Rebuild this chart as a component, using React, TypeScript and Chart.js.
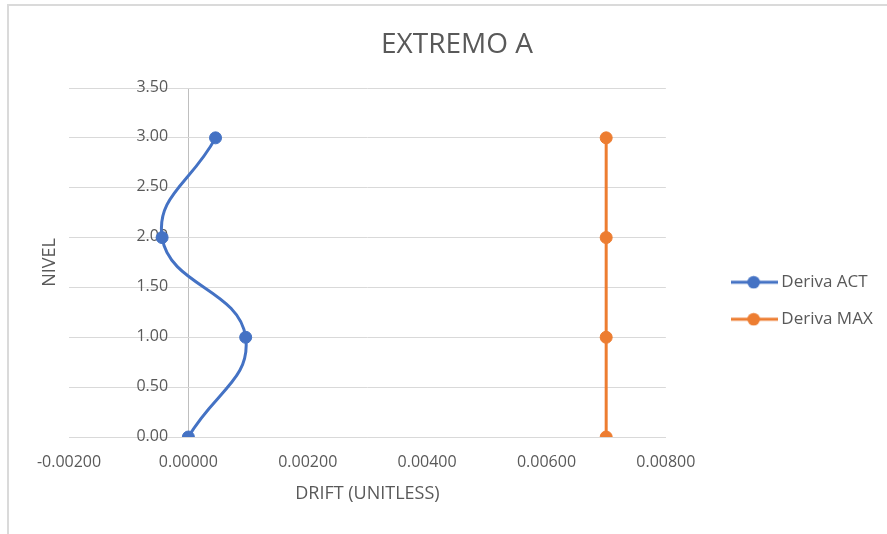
import React, { useEffect, useRef } from 'react';
import { Chart, registerables } from 'chart.js';

Chart.register(...registerables);

// ---- data ----
const levels = [0, 1, 2, 3];
const derivaAct = [0, 0.00096, -0.00044, 0.000455];
const derivaMax = [0.007, 0.007, 0.007, 0.007];
const seriesNames = ['Deriva ACT', 'Deriva MAX'];
const seriesColors = ['#4472C4', '#ED7D31'];
const xTicks = [-0.002, 0, 0.002, 0.004, 0.006, 0.008];
const yTicks = [0, 0.5, 1, 1.5, 2, 2.5, 3, 3.5];
const chartTitle = 'EXTREMO A';
const xTitle = 'DRIFT (UNITLESS)';
const yTitle = 'NIVEL';

const FONT = "'Open Sans', 'Noto Sans', sans-serif";
const TEXT = '#595959';

function makeIcon(color: string): HTMLCanvasElement {
  const c = document.createElement('canvas');
  c.width = 47;
  c.height = 14;
  const g = c.getContext('2d')!;
  g.strokeStyle = color;
  g.lineWidth = 3;
  g.beginPath();
  g.moveTo(0, 7);
  g.lineTo(47, 7);
  g.stroke();
  g.fillStyle = color;
  g.beginPath();
  g.arc(22.5, 7, 6.3, 0, Math.PI * 2);
  g.fill();
  return c;
}

export default function App() {
  const ref = useRef<HTMLCanvasElement | null>(null);

  useEffect(() => {
    if (!ref.current) return;
    const icons = seriesColors.map(makeIcon);
    const chart = new Chart(ref.current, {
      type: 'scatter',
      data: {
        datasets: [
          {
            label: seriesNames[0],
            data: levels.map((y, i) => ({ x: derivaAct[i], y })),
            showLine: true,
            borderColor: seriesColors[0],
            backgroundColor: seriesColors[0],
            borderWidth: 3,
            tension: 0.45,
            pointRadius: 6,
            pointBorderWidth: 1,
            pointBackgroundColor: seriesColors[0],
            pointBorderColor: seriesColors[0],
          },
          {
            label: seriesNames[1],
            data: levels.map((y, i) => ({ x: derivaMax[i], y })),
            showLine: true,
            borderColor: seriesColors[1],
            backgroundColor: seriesColors[1],
            borderWidth: 3,
            tension: 0,
            pointRadius: 6,
            pointBorderWidth: 1,
            pointBackgroundColor: seriesColors[1],
            pointBorderColor: seriesColors[1],
          },
        ],
      },
      options: {
        responsive: false,
        animation: false,
        devicePixelRatio: 1,
        layout: { padding: { left: 31.3, right: 4.3, top: 0, bottom: 0 } },
        plugins: {
          tooltip: { enabled: false },
          title: {
            display: true,
            text: chartTitle,
            color: TEXT,
            font: { family: FONT, size: 28, weight: 'normal' },
            padding: { top: 28.5, bottom: 25.9 },
          },
          legend: {
            position: 'right',
            maxWidth: 200,
            title: {
              display: true,
              text: ' ',
              font: { size: 10 },
              padding: { top: 55.5, bottom: 0 },
            },
            labels: {
              usePointStyle: true,
              pointStyleWidth: 36.4,
              padding: 20,
              color: TEXT,
              font: { family: FONT, size: 17 },
              generateLabels: (ch: any) =>
                ch.data.datasets.map((ds: any, i: number) => ({
                  text: ds.label,
                  pointStyle: icons[i],
                  fillStyle: ds.borderColor,
                  strokeStyle: ds.borderColor,
                  fontColor: TEXT,
                  lineWidth: 0,
                  hidden: !ch.isDatasetVisible(i),
                  datasetIndex: i,
                })),
            },
          },
        },
        scales: {
          x: {
            type: 'linear',
            position: 'bottom',
            min: xTicks[0],
            max: xTicks[xTicks.length - 1],
            afterBuildTicks: (s: any) => {
              s.ticks = xTicks.map((v) => ({ value: v }));
            },
            ticks: {
              padding: 15.4,
              color: TEXT,
              font: { family: FONT, size: 16 },
              callback: (v: any) => Number(v).toFixed(5),
            },
            grid: {
              display: true,
              drawTicks: false,
              lineWidth: 1,
              color: (ctx: any) => (ctx.tick && ctx.tick.value === 0 ? '#bfbfbf' : 'rgba(0,0,0,0)'),
            },
            border: { display: true, color: '#d9d9d9' },
            title: {
              display: true,
              text: xTitle,
              color: TEXT,
              font: { family: FONT, size: 18 },
              padding: { top: -3.8, bottom: 29.2 },
            },
          },
          y: {
            type: 'linear',
            position: 'left',
            min: yTicks[0],
            max: yTicks[yTicks.length - 1],
            afterBuildTicks: (s: any) => {
              s.ticks = yTicks.map((v) => ({ value: v }));
            },
            ticks: { display: false },
            grid: { display: true, drawTicks: false, color: '#d9d9d9', lineWidth: 1 },
            border: { display: false },
            title: {
              display: true,
              text: yTitle,
              color: TEXT,
              font: { family: FONT, size: 18 },
              padding: { top: 7.9, bottom: 8.2 },
            },
          },
          yLabels: {
            type: 'linear',
            position: { x: -0.00034 },
            min: yTicks[0],
            max: yTicks[yTicks.length - 1],
            afterBuildTicks: (s: any) => {
              s.ticks = yTicks.map((v) => ({ value: v }));
            },
            ticks: {
              padding: 0,
              labelOffset: -1,
              color: TEXT,
              font: { family: FONT, size: 16 },
              callback: (v: any) => Number(v).toFixed(2),
            },
            grid: { display: false, drawTicks: false },
            border: { display: false },
          },
          spacer: {
            type: 'linear',
            position: 'right',
            display: true,
            afterFit: (s: any) => {
              s.width = 50.6;
            },
            ticks: { display: false },
            grid: { display: false, drawTicks: false },
            border: { display: false },
          },
        },
      } as any,
    });
    return () => chart.destroy();
  }, []);

  return (
    <div style={{ position: 'absolute', left: 0, top: 0, width: 887, height: 534, background: '#ffffff', overflow: 'hidden' }}>
      <div
        style={{
          position: 'absolute',
          left: 7,
          top: 4,
          width: 900,
          height: 560,
          borderLeft: '2px solid #dadada',
          borderTop: '2px solid #dadada',
        }}
      />
      <canvas ref={ref} width={887} height={534} style={{ position: 'absolute', left: 0, top: 0, width: 887, height: 534 }} />
    </div>
  );
}
